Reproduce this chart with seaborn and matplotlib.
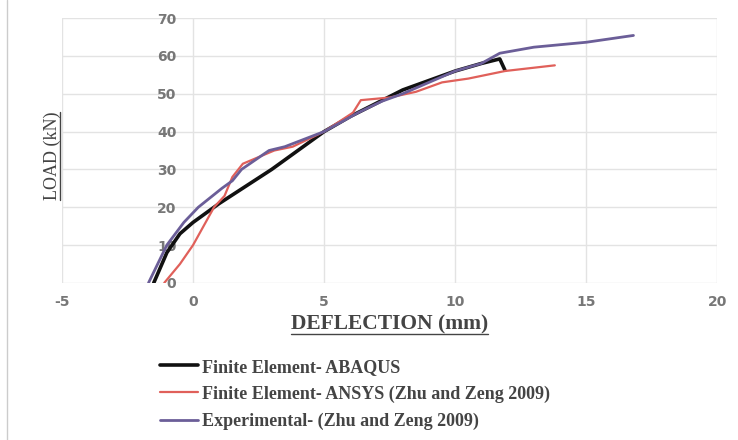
import pandas as pd
import numpy as np
import seaborn as sns
import matplotlib.pyplot as plt
from matplotlib.lines import Line2D

abaqus_defl = [-1.5, -1.0, -0.5, 0.0, 1.0, 2.0, 3.0, 4.0, 5.0, 6.0, 7.0, 8.0, 9.0, 10.0, 11.0, 11.7, 11.9]
abaqus_load = [0, 8, 13, 16, 21, 25.5, 30, 35, 40, 44, 47.5, 51, 53.5, 56, 58, 59.2, 56.2]

ansys_defl = [-1.1, -0.5, 0.0, 0.8, 1.2, 1.5, 1.9, 3.1, 3.8, 5.0, 6.1, 6.4, 7.5, 8.5, 9.5, 10.5, 11.9, 13.8]
ansys_load = [0, 5, 10, 20, 23, 28, 31.5, 35, 36, 40, 45, 48.3, 49, 50.5, 53, 54, 56, 57.5]

exp_defl = [-1.7, -1.0, -0.35, 0.2, 1.1, 1.5, 1.85, 2.9, 3.5, 5.0, 6.3, 7.2, 8.0, 9.0, 10.0, 11.0, 11.7, 13.0, 15.0, 16.8]
exp_load = [0, 10, 16, 20, 25, 27, 30, 35, 36, 40, 45, 48, 50, 53, 56, 58, 60.7, 62.3, 63.6, 65.4]

labels = ["Finite Element- ABAQUS",
          "Finite Element- ANSYS (Zhu and Zeng 2009)",
          "Experimental- (Zhu and Zeng 2009)"]
colors = ["#111111", "#e0605a", "#6b5e98"]
widths = [2.6, 1.6, 2.0]

sns.set_style("white")
plt.rcParams["axes.unicode_minus"] = False
fig = plt.figure(figsize=(7.38, 4.4), dpi=100)
ax = fig.add_axes([0.084, 0.357, 0.888, 0.602])

series = [(abaqus_defl, abaqus_load), (ansys_defl, ansys_load), (exp_defl, exp_load)]
for (x, y), lab, c, w in zip(series, labels, colors, widths):
    df = pd.DataFrame({"x": x, "y": y})
    sns.lineplot(data=df, x="x", y="y", sort=False, estimator=None, color=c,
                 linewidth=w, ax=ax, label=lab, legend=False)

ax.set_xlim(-5, 20)
ax.set_ylim(0, 70)
ax.set_xticks(np.arange(-5, 21, 5))
ax.set_yticks(np.arange(0, 71, 10))
ax.grid(True, color="#e3e3e3", linewidth=1.0)
for s in ax.spines.values():
    s.set_visible(False)
ax.spines["left"].set_position(("data", 0))
ax.tick_params(length=0, labelsize=10, colors="#777777")
ax.tick_params(axis="y", pad=12)
ax.tick_params(axis="x", pad=9)
for t in ax.get_xticklabels() + ax.get_yticklabels():
    t.set_fontweight("bold")
    t.set_family("DejaVu Sans")
ax.set_xlabel("")
ax.set_ylabel("")

serif = "Liberation Serif"
xl = fig.text(0.528, 0.262, "DEFLECTION (mm)", ha="center", va="center",
              fontsize=15.5, fontweight="bold", family=serif, color="#444444")
yl = fig.text(0.071, 0.645, "LOAD (kN)", ha="center", va="center", rotation=90,
              fontsize=13, family=serif, color="#444444")

# underline the axis titles
fig.canvas.draw()
r = fig.canvas.get_renderer()
W, H = fig.get_size_inches() * fig.dpi
bb = xl.get_window_extent(r)
fig.add_artist(Line2D([bb.x0 / W, bb.x1 / W], [(bb.y0 + 1) / H] * 2, color="#444444", lw=1))
bb = yl.get_window_extent(r)
fig.add_artist(Line2D([(bb.x1 - 1) / W] * 2, [bb.y0 / H, bb.y1 / H], color="#444444", lw=1))

handles = [Line2D([], [], color=c, lw=w) for c, w in zip(colors, widths)]
leg = fig.legend(handles, labels, loc="upper left", bbox_to_anchor=(0.195, 0.222),
                 frameon=False, handlelength=2.1, handletextpad=0.2, labelspacing=0.55,
                 prop={"family": serif, "weight": "bold", "size": 13})
for t in leg.get_texts():
    t.set_color("#444444")

fig.add_artist(Line2D([0.009, 0.009], [0.0, 1.0], color="#cccccc", lw=1))

fig.savefig("out.png", dpi=100)
